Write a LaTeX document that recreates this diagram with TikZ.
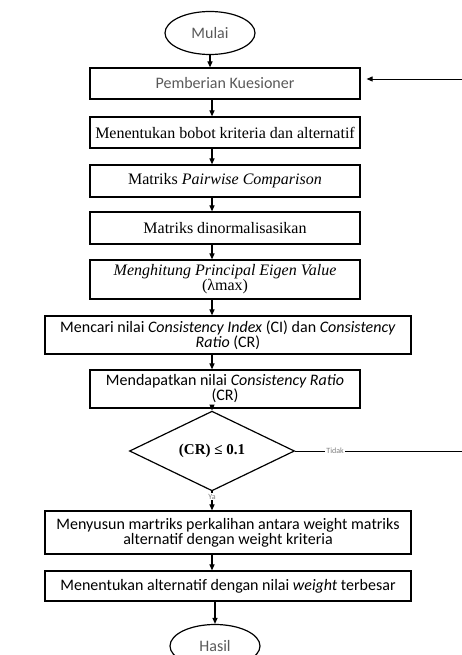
\documentclass[tikz,border=0pt]{standalone}
\usepackage{fontspec}
\setmainfont{Liberation Serif}
\newfontfamily\calibrifont{Carlito}
\usepackage{tikz}
\usetikzlibrary{arrows.meta,positioning,shapes.geometric}
\definecolor{greytext}{HTML}{595959}

\begin{document}
\begin{tikzpicture}[x=1pt,y=-1pt,every node/.style={align=center},
  box/.style={draw,line width=1.2pt,minimum width=270pt,minimum height=31pt,inner sep=2pt},
  wide/.style={box,minimum width=366pt},
  times/.style={font=\fontsize{16}{15}\selectfont},
  cali/.style={font=\calibrifont\fontsize{16}{15}\selectfont},
  term/.style={draw,ellipse,line width=1.2pt,minimum width=90pt,minimum height=43pt,inner sep=0pt,cali,text=greytext},
  arr/.style={-{Triangle[length=6pt,width=5pt]},line width=1.1pt},
  lbl/.style={fill=white,inner sep=1pt,font=\calibrifont\fontsize{8}{9}\selectfont,text=gray}]
\useasboundingbox (0,0) rectangle (462,655);
\node[term] (mulai) at (210,33) {Mulai};
\node[box,cali,text=greytext] (kuesioner) at (225,83.5) {Pemberian Kuesioner};
\node[box,times] (bobot) at (225,132.5) {Menentukan bobot kriteria dan alternatif};
\node[box,times,minimum height=32pt] (pairwise) at (225,181) {Matriks \textit{Pairwise Comparison}};
\node[box,times,minimum height=32pt] (normal) at (225,228) {Matriks dinormalisasikan};
\node[box,times,minimum height=39pt] (eigen) at (225,279.5) {\textit{Menghitung Principal Eigen Value}\\(λmax)};
\node[wide,cali,minimum height=38pt] (ci) at (228,335) {Mencari nilai \textit{Consistency Index} (CI) dan \textit{Consistency}\\\textit{Ratio} (CR)};
\node[box,cali,minimum height=38pt] (cr) at (225,389) {Mendapatkan nilai \textit{Consistency Ratio}\\(CR)};
\node[draw,diamond,line width=1.2pt,minimum width=165pt,minimum height=55pt,inner sep=0pt,font=\fontsize{15}{15}\selectfont\bfseries] (cek) at (212,451) {(CR) ≤ 0.1};
\node[wide,cali,minimum height=43pt] (kali) at (228,532.5) {Menyusun martriks perkalihan antara weight matriks\\alternatif dengan weight kriteria};
\node[wide,cali,minimum height=30pt] (terbesar) at (228,586) {Menentukan alternatif dengan nilai \textit{weight} terbesar};
\node[term] (hasil) at (215,646) {Hasil};
\coordinate (ulang) at (462,79);
\coordinate (tidak) at (462,451);
% alur utama
\draw[arr] (mulai.south) -- (mulai.south |- kuesioner.north);
\draw[arr] (kuesioner.south -| cek) -- (bobot.north -| cek);
\draw[arr] (bobot.south -| cek) -- (pairwise.north -| cek);
\draw[arr] (pairwise.south -| cek) -- (normal.north -| cek);
\draw[arr] (normal.south -| cek) -- (eigen.north -| cek);
\draw[arr] (eigen.south -| cek) -- (ci.north -| cek);
\draw[arr] (ci.south -| cek) -- (cr.north -| cek);
\draw[arr] (cr.south -| cek) -- (cek.north);
\draw[arr] (cek.south) -- node[lbl,pos=0.28] {Ya} (kali.north -| cek);
\draw[arr] (kali.south -| cek) -- (terbesar.north -| cek);
\draw[arr] (terbesar.south -| hasil) -- (hasil.north);
% kembali
\draw[line width=0.9pt] (cek.east) -- node[lbl,pos=0.24] {Tidak} (tidak);
\draw[arr,line width=0.9pt] (ulang) -- ([xshift=6pt]kuesioner.east |- ulang);
\end{tikzpicture}
\end{document}
